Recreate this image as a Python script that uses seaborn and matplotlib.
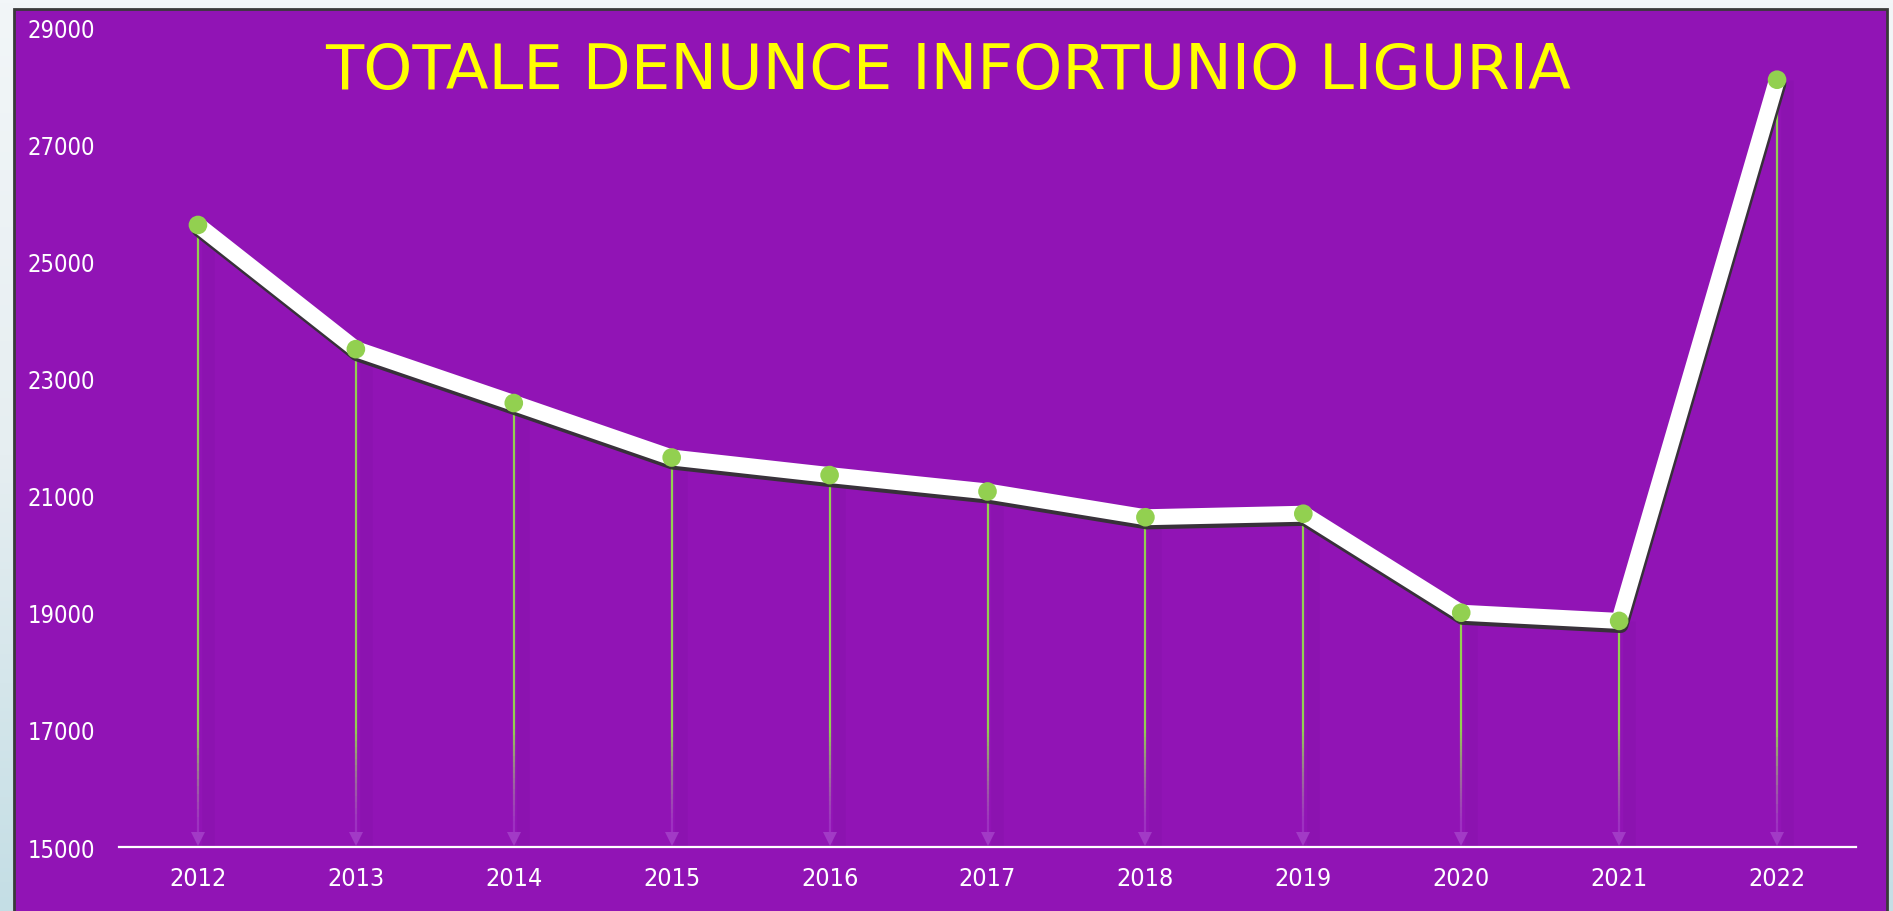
import numpy as np
import pandas as pd
import matplotlib
matplotlib.use("Agg")
import matplotlib.pyplot as plt
import matplotlib.patheffects as pe
import matplotlib.transforms as mtransforms
from matplotlib.collections import LineCollection
from matplotlib.colors import LinearSegmentedColormap, to_rgba
from matplotlib.patches import Rectangle
import seaborn as sns

# ---- data ----
years = [2012, 2013, 2014, 2015, 2016, 2017, 2018, 2019, 2020, 2021, 2022]
values = [25620, 23500, 22580, 21650, 21350, 21070, 20630, 20690, 19000, 18860, 28100]
yticks = [15000, 17000, 19000, 21000, 23000, 25000, 27000, 29000]
title = "TOTALE DENUNCE INFORTUNIO LIGURIA"

# ---- style ----
PURPLE = "#9114B5"
GREEN = "#92D050"
LAVENDER = "#A848CC"

sns.set_theme(style="white")
plt.rcParams["font.family"] = ["DejaVu Sans"]
plt.rcParams["font.stretch"] = "condensed"

W, H = 1893, 912
fig = plt.figure(figsize=(W / 100, H / 100), dpi=100)

# background gradient + purple panel
bg = fig.add_axes([0, 0, 1, 1], zorder=-10)
cmap = LinearSegmentedColormap.from_list("bg", ["#F2F6F8", "#E6EEF1", "#C4DEE5"])
bg.imshow(np.linspace(0, 1, 256).reshape(-1, 1), aspect="auto", cmap=cmap,
          extent=[0, 1, 0, 1], origin="upper")
bg.add_patch(Rectangle((14 / W, -0.02), (1887 - 14) / W, (H - 10) / H + 0.02,
                       facecolor=PURPLE, edgecolor="#3a3a3a", lw=2,
                       transform=bg.transAxes))
bg.set_xlim(0, 1)
bg.set_ylim(0, 1)
bg.axis("off")

ax = fig.add_axes([119 / W, 64 / H, (1856 - 119) / W, 820 / H])
ax.patch.set_visible(False)

df = pd.DataFrame({"anno": years, "denunce": values})
ymin, ymax = yticks[0], yticks[-1]

# drop lines with gradient (green -> lavender near the baseline)
g = np.array(to_rgba(GREEN))
l = np.array(to_rgba(LAVENDER, 0.55))
shadow_tr = ax.transData + mtransforms.ScaledTranslation(7 / 72, 0, fig.dpi_scale_trans)
for x, v in zip(years, values):
    ys = np.linspace(v, ymin + 250, 80)
    segs = [[(x, ys[i]), (x, ys[i + 1])] for i in range(len(ys) - 1)]
    cols = []
    for i in range(len(ys) - 1):
        ym = 0.5 * (ys[i] + ys[i + 1])
        t = np.clip((17000 - ym) / (17000 - 15400), 0, 1)
        cols.append(g * (1 - t) + l * t)
    ax.plot([x, x], [v, ymin], color="#5a0a80", alpha=0.09, lw=9,
            transform=shadow_tr, zorder=1, solid_capstyle="butt")
    ax.add_collection(LineCollection(segs, colors=cols, linewidths=1.6, zorder=2))

# arrow heads at baseline
arrow_tr = ax.transData + mtransforms.ScaledTranslation(0, 5.5 / 72, fig.dpi_scale_trans)
ax.plot(years, [ymin] * len(years), linestyle="none", marker="v", markersize=10.5,
        color=LAVENDER, alpha=0.75, markeredgewidth=0, transform=arrow_tr, zorder=2)

# main line with shadow
sns.lineplot(data=df, x="anno", y="denunce", ax=ax, color="white", lw=11.5,
             solid_capstyle="round", zorder=3, clip_on=False,
             path_effects=[pe.SimpleLineShadow(offset=(1, -3), shadow_color="#333333", alpha=0.95),
                           pe.Normal()])

# dots
sns.scatterplot(data=df, x="anno", y="denunce", ax=ax, color=GREEN, s=180,
                edgecolor="none", zorder=5, clip_on=False)

ax.set_xlim(2011.5, 2022.5)
ax.set_ylim(ymin, ymax)
ax.set_xticks(years)
ax.set_xticklabels([str(y) for y in years])
ax.set_yticks(yticks)
ax.set_yticklabels([str(t) for t in yticks])
ax.set_xlabel("")
ax.set_ylabel("")
ax.tick_params(axis="y", length=0, pad=17, labelsize=17, labelcolor="white")
ax.tick_params(axis="x", length=0, pad=14, labelsize=18, labelcolor="white")
for s in ["top", "right", "left"]:
    ax.spines[s].set_visible(False)
ax.spines["bottom"].set_color("white")
ax.spines["bottom"].set_linewidth(1.6)
ax.grid(False)

fig.text(948 / W, 1 - 72 / H, title, color="#FFFF00", fontsize=45,
         fontstretch="normal", ha="center", va="center")

fig.savefig("out.png", dpi=100)
